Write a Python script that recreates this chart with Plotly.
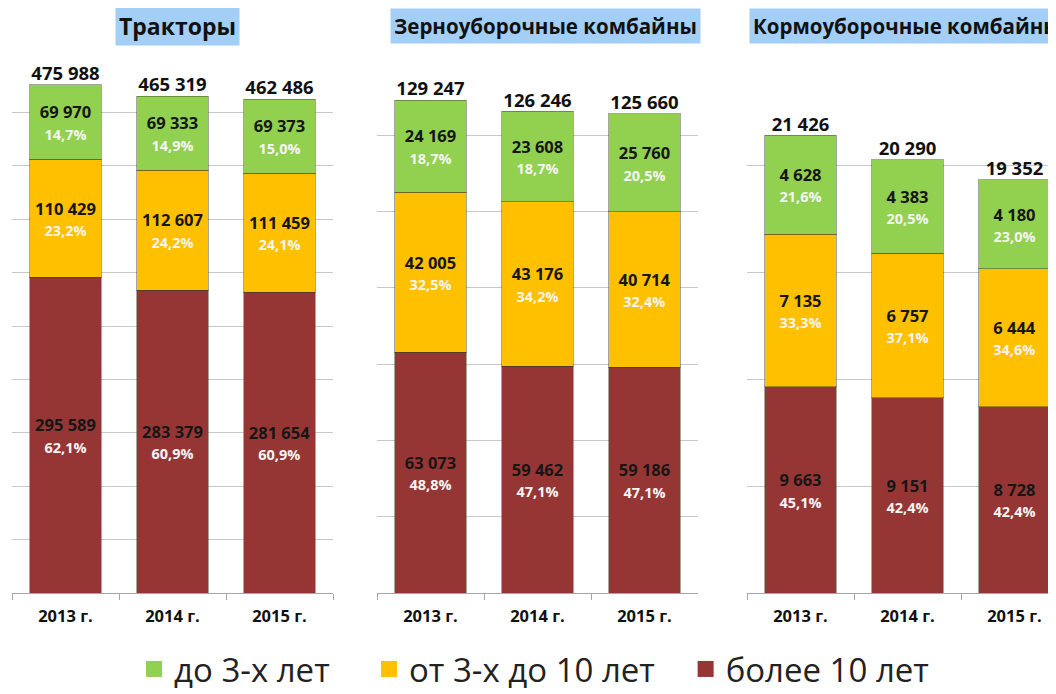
import plotly.graph_objects as go

years = ["2013 г.", "2014 г.", "2015 г."]

panel_titles = ["Тракторы", "Зерноуборочные комбайны", "Кормоуборочные комбайны"]

series_names = ["более 10 лет", "от 3-х до 10 лет", "до 3-х лет"]
series_colors = ["#963634", "#FFC000", "#92D050"]

# Tractors
tractors_old = [295589, 283379, 281654]
tractors_mid = [110429, 112607, 111459]
tractors_new = [69970, 69333, 69373]
tractors_old_pct = ["62,1%", "60,9%", "60,9%"]
tractors_mid_pct = ["23,2%", "24,2%", "24,1%"]
tractors_new_pct = ["14,7%", "14,9%", "15,0%"]
tractors_total = [475988, 465319, 462486]

# Grain harvesters
grain_old = [63073, 59462, 59186]
grain_mid = [42005, 43176, 40714]
grain_new = [24169, 23608, 25760]
grain_old_pct = ["48,8%", "47,1%", "47,1%"]
grain_mid_pct = ["32,5%", "34,2%", "32,4%"]
grain_new_pct = ["18,7%", "18,7%", "20,5%"]
grain_total = [129247, 126246, 125660]

# Forage harvesters
forage_old = [9663, 9151, 8728]
forage_mid = [7135, 6757, 6444]
forage_new = [4628, 4383, 4180]
forage_old_pct = ["45,1%", "42,4%", "42,4%"]
forage_mid_pct = ["33,3%", "37,1%", "34,6%"]
forage_new_pct = ["21,6%", "20,5%", "23,0%"]
forage_total = [21426, 20290, 19352]

y_max = [500000, 140000, 25000]
y_step = [50000, 20000, 5000]

panels = [
    ([tractors_old, tractors_mid, tractors_new],
     [tractors_old_pct, tractors_mid_pct, tractors_new_pct], tractors_total),
    ([grain_old, grain_mid, grain_new],
     [grain_old_pct, grain_mid_pct, grain_new_pct], grain_total),
    ([forage_old, forage_mid, forage_new],
     [forage_old_pct, forage_mid_pct, forage_new_pct], forage_total),
]

# page body has an 8px margin: work in reference pixels, shift by OFF
OFF = 8
W, H = 1056 - OFF, 689


def px(x):
    return (x - OFF) / W


def py(y):
    return (H - (y - OFF)) / H


x_domains = [[px(12), px(333)], [px(377), px(698)], [px(747), 1.0]]
y_domain = [py(593), py(59)]
FONT = "Open Sans"


def fmt(v):
    return f"{v:,}".replace(",", " ")


fig = go.Figure()

for i, (vals, pcts, totals) in enumerate(panels):
    xa = "x" if i == 0 else f"x{i + 1}"
    ya = "y" if i == 0 else f"y{i + 1}"
    for s in range(3):
        texts = [
            f"<b>{fmt(v)}</b><br><span style='color:#f4f4f4;font-size:14.5px'><b>{p}</b></span>"
            for v, p in zip(vals[s], pcts[s])
        ]
        fig.add_trace(go.Bar(
            x=years, y=vals[s], xaxis=xa, yaxis=ya,
            name=series_names[s], showlegend=False,
            marker=dict(color=series_colors[s],
                        line=dict(color="rgba(60,60,40,0.45)", width=1)),
            text=texts, textposition="inside", insidetextanchor="middle",
            textangle=0, constraintext="none",
            textfont=dict(family=FONT, size=16.5, color="#161616"),
            hoverinfo="skip",
        ))
    fig.add_trace(go.Scatter(
        x=years, y=totals, xaxis=xa, yaxis=ya, mode="text",
        text=[f"<b>{fmt(t)}</b>" for t in totals],
        textposition="top center",
        textfont=dict(family=FONT, size=18.5, color="#111111"),
        showlegend=False, cliponaxis=False, hoverinfo="skip",
    ))

# legend entries (trailing no-break spaces widen the gap between entries)
legend_pad = {2: 4, 1: 3, 0: 0}
for s in [2, 1, 0]:
    fig.add_trace(go.Scatter(
        x=[None], y=[None], mode="markers",
        name=series_names[s] + "\u00a0" * legend_pad[s],
        marker=dict(symbol="square", size=16, color=series_colors[s]),
        showlegend=True,
    ))

layout = dict(
    width=W, height=H,
    margin=dict(l=0, r=0, t=0, b=0),
    paper_bgcolor="white", plot_bgcolor="white",
    barmode="stack", bargap=0.33,
    font=dict(family=FONT, color="#111111"),
    showlegend=True,
    legend=dict(orientation="h", x=px(534), xanchor="center", y=0, yanchor="bottom",
                font=dict(family=FONT, size=33, color="#222222"),
                itemsizing="trace", traceorder="normal"),
)

for i in range(3):
    xk = "xaxis" if i == 0 else f"xaxis{i + 1}"
    yk = "yaxis" if i == 0 else f"yaxis{i + 1}"
    ya = "y" if i == 0 else f"y{i + 1}"
    xa = "x" if i == 0 else f"x{i + 1}"
    xr = [-0.5, 2.5] if i < 2 else [-0.5, 2.5 - (1068 - 1056) / 107]
    layout[xk] = dict(
        domain=x_domains[i], anchor=ya, type="category", range=xr,
        showline=True, linecolor="#a6a6a6", linewidth=1,
        ticks="outside", tickson="boundaries", ticklen=6, tickcolor="#a6a6a6",
        ticklabelstandoff=8,
        showgrid=False, zeroline=False,
        tickfont=dict(family=FONT, size=16.5, color="#111111"),
        tickprefix="<b>", ticksuffix="</b>",
    )
    layout[yk] = dict(
        domain=y_domain, anchor=xa, range=[0, y_max[i]], dtick=y_step[i],
        showticklabels=False, showgrid=True, gridcolor="#c8c8c8", gridwidth=1,
        zeroline=False, showline=False, ticks="",
    )

fig.update_layout(**layout)

title_pos = [(177, "center", 23), (545, "center", 20.5), (749, "left", 20.5)]
for i, (tx, anchor, fs) in enumerate(title_pos):
    fig.add_annotation(
        x=px(tx), y=py(26), xref="paper", yref="paper",
        xanchor=anchor, yanchor="middle",
        text=f"<b>{panel_titles[i]}</b>", showarrow=False,
        font=dict(family=FONT, size=fs, color="#111111"),
        bgcolor="#A3CEF5", borderpad=3,
    )

fig.write_html("out.html")
